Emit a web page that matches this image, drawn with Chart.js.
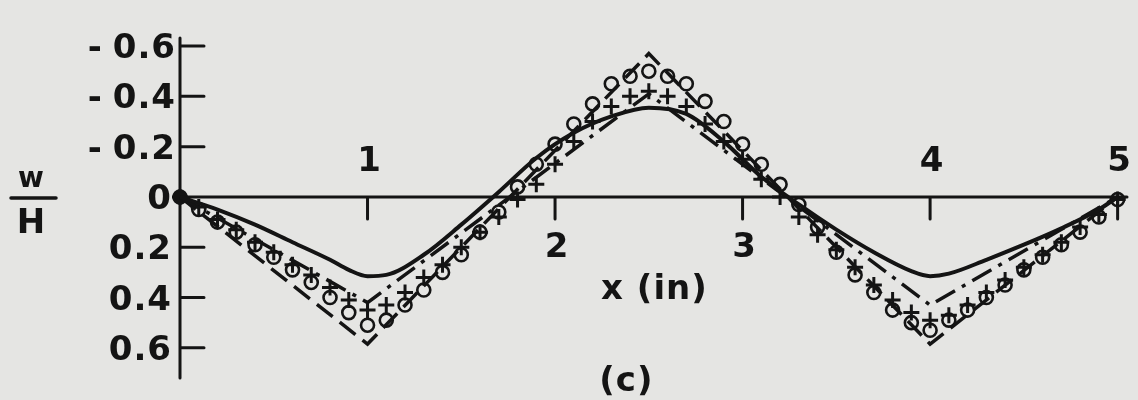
<!DOCTYPE html>
<html>
<head>
<meta charset="utf-8">
<script src="https://cdn.jsdelivr.net/npm/chart.js@4.4.1/dist/chart.umd.min.js"></script>
<style>
  html, body { margin: 0; padding: 0; background: #e5e5e3; }
  #wrap { width: 1138px; height: 400px; }
</style>
</head>
<body>
<div id="wrap"><canvas id="myChart" width="1138" height="400"></canvas></div>
<script>
// x positions of the measured points (in)
const xIn = [
  0.0, 0.1, 0.2, 0.3, 0.4, 0.5, 0.6, 0.7, 0.8, 0.9,
  1.0, 1.1, 1.2, 1.3, 1.4, 1.5, 1.6, 1.7, 1.8, 1.9,
  2.0, 2.1, 2.2, 2.3, 2.4, 2.5, 2.6, 2.7, 2.8, 2.9,
  3.0, 3.1, 3.2, 3.3, 3.4, 3.5, 3.6, 3.7, 3.8, 3.9,
  4.0, 4.1, 4.2, 4.3, 4.4, 4.5, 4.6, 4.7, 4.8, 4.9, 5.0
];
// w/H, circles
const circleW = [
  0.00, 0.05, 0.10, 0.14, 0.19, 0.24, 0.29, 0.34, 0.40, 0.46,
  0.51, 0.49, 0.43, 0.37, 0.30, 0.23, 0.14, 0.06, -0.04, -0.13,
  -0.21, -0.29, -0.37, -0.45, -0.48, -0.50, -0.48, -0.45, -0.38, -0.30,
  -0.21, -0.13, -0.05, 0.03, 0.12, 0.22, 0.31, 0.38, 0.45, 0.50,
  0.53, 0.49, 0.45, 0.40, 0.35, 0.29, 0.24, 0.19, 0.14, 0.08, 0.01
];
// w/H, crosses
const plusW = [
  0.00, 0.04, 0.09, 0.13, 0.18, 0.22, 0.27, 0.31, 0.36, 0.41,
  0.45, 0.43, 0.38, 0.32, 0.27, 0.20, 0.14, 0.08, 0.01, -0.05,
  -0.13, -0.22, -0.30, -0.36, -0.40, -0.42, -0.40, -0.36, -0.29, -0.22,
  -0.15, -0.07, 0.00, 0.08, 0.15, 0.21, 0.28, 0.35, 0.41, 0.46,
  0.49, 0.47, 0.43, 0.38, 0.33, 0.28, 0.23, 0.18, 0.12, 0.07, 0.01
];
// solid curve
const solidX = [0, 0.2, 0.4, 0.6, 0.8, 0.9, 1.0, 1.1, 1.3, 1.5, 1.7, 1.9, 2.1, 2.3, 2.5,
                2.7, 2.9, 3.1, 3.3, 3.5, 3.7, 3.9, 4.0, 4.1, 4.3, 4.5, 4.7, 4.9, 5.0];
const solidW = [0, 0.05, 0.11, 0.18, 0.25, 0.29, 0.315, 0.31, 0.23, 0.11, -0.02, -0.155, -0.255, -0.32, -0.355,
                -0.33, -0.22, -0.08, 0.03, 0.13, 0.22, 0.295, 0.315, 0.305, 0.25, 0.19, 0.125, 0.05, 0.0];
// dash-dot and dashed curves (corner points)
const cornerX = [0, 1, 2.5, 4, 5];
const dashDotW = [0, 0.42, -0.41, 0.43, 0];
const dashedW = [0, 0.585, -0.57, 0.585, 0];

const yTicks = [-0.6, -0.4, -0.2, 0, 0.2, 0.4, 0.6];
const yTickLabels = ['-0.6', '-0.4', '-0.2', '0', '0.2', '0.4', '0.6'];
const xTicks = [1, 2, 3, 4, 5];
const xTickLabels = ['1', '2', '3', '4', '5'];

const ink = '#141414';
const font = '"DejaVu Sans"';
const pts = (xs, ys) => xs.map((x, i) => ({ x: x, y: ys[i] }));

// hand-lettered axes: y axis at x=0, x axis along w=0
const paperAxes = {
  id: 'paperAxes',
  beforeDatasetsDraw(chart) {
    const c = chart.ctx;
    const xs = chart.scales.x, ys = chart.scales.y;
    const x0 = xs.getPixelForValue(0), y0 = ys.getPixelForValue(0);
    c.save();
    c.strokeStyle = ink;
    c.fillStyle = ink;
    c.lineCap = 'round';
    c.lineWidth = 3;
    c.beginPath();
    c.moveTo(x0, ys.top);
    c.lineTo(x0, ys.bottom);
    c.moveTo(x0, y0);
    c.lineTo(xs.right, y0);
    yTicks.forEach(v => {
      if (v === 0) return;
      const y = ys.getPixelForValue(v);
      c.moveTo(x0, y);
      c.lineTo(x0 + 24, y);
    });
    xTicks.forEach(v => {
      const x = xs.getPixelForValue(v);
      c.moveTo(x, y0);
      c.lineTo(x, y0 + 22);
    });
    c.stroke();

    c.font = 'bold 34px ' + font;
    c.letterSpacing = '1px';
    c.textBaseline = 'alphabetic';
    yTicks.forEach((v, i) => {
      const y = ys.getPixelForValue(v) + 12;
      const s = yTickLabels[i];
      c.textAlign = 'right';
      if (s.startsWith('-')) {
        // lettered minus sits apart from the number
        const num = s.slice(1);
        c.fillText(num, x0 - 4, y);
        const w = c.measureText(num).width;
        c.fillText('-', x0 - 4 - w - 10, y);
      } else {
        c.fillText(s, x0 - 8, y);
      }
    });
    c.textAlign = 'center';
    const aboveAxis = [1, 4, 5];
    xTicks.forEach((v, i) => {
      const x = xs.getPixelForValue(v);
      const y = aboveAxis.includes(v) ? y0 - 26 : y0 + 60;
      c.fillText(xTickLabels[i], x + 2, y);
    });
    c.fillText('x (in)', xs.getPixelForValue(2.53), y0 + 102);
    c.fillText('(c)', xs.getPixelForValue(2.38), y0 + 194);

    // w over H
    c.letterSpacing = '0px';
    c.font = 'bold 28px ' + font;
    c.fillText('w', 31, y0 - 10);
    c.font = 'bold 34px ' + font;
    c.fillText('H', 31, y0 + 36);
    c.lineWidth = 3.5;
    c.beginPath();
    c.moveTo(11, y0 + 1);
    c.lineTo(56, y0 + 1);
    c.stroke();
    c.restore();
  }
};

const ctx = document.getElementById('myChart').getContext('2d');
const myChart = new Chart(ctx, {
  type: 'scatter',
  data: {
    datasets: [
      {
        data: pts(solidX, solidW),
        showLine: true,
        borderColor: ink,
        borderWidth: 4,
        pointRadius: 0,
        cubicInterpolationMode: 'monotone',
        clip: false
      },
      {
        data: pts(cornerX, dashDotW),
        showLine: true,
        borderColor: ink,
        borderWidth: 3.5,
        borderDash: [22, 8, 4, 8],
        pointRadius: 0,
        clip: false
      },
      {
        data: pts(cornerX, dashedW),
        showLine: true,
        borderColor: ink,
        borderWidth: 3.5,
        borderDash: [20, 9],
        pointRadius: 0,
        clip: false
      },
      {
        data: pts(xIn, circleW),
        showLine: false,
        pointStyle: 'circle',
        pointRadius: 6.5,
        pointBorderWidth: 2.6,
        pointBorderColor: ink,
        pointBackgroundColor: c => (c.dataIndex === 0 ? ink : 'rgba(0,0,0,0)'),
        clip: false
      },
      {
        data: pts(xIn, plusW),
        showLine: false,
        pointStyle: 'cross',
        pointRadius: 8,
        pointBorderWidth: 3,
        pointBorderColor: ink,
        clip: false
      }
    ]
  },
  options: {
    responsive: false,
    animation: false,
    devicePixelRatio: 1,
    events: [],
    layout: { padding: { left: 180, right: 8, top: 38, bottom: 22 } },
    scales: {
      x: { type: 'linear', min: 0, max: 5.05, display: false },
      y: { type: 'linear', min: -0.632, max: 0.72, reverse: true, display: false }
    },
    plugins: {
      legend: { display: false },
      tooltip: { enabled: false }
    }
  },
  plugins: [paperAxes]
});
</script>
</body>
</html>
